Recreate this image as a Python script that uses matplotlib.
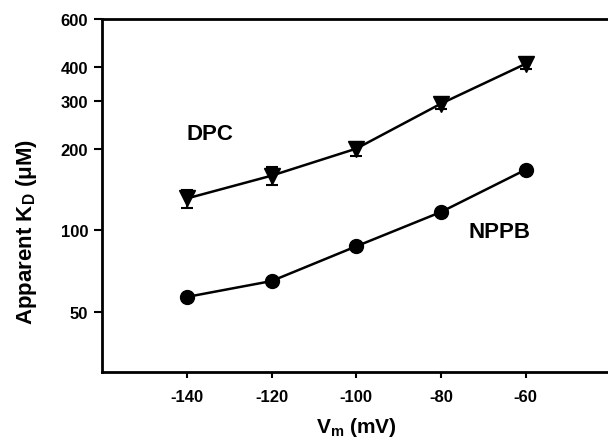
import matplotlib
matplotlib.use("Agg")
import matplotlib.pyplot as plt
from matplotlib.ticker import FixedLocator, NullLocator, FixedFormatter

plt.rcParams['font.family'] = ['Liberation Sans', 'DejaVu Sans']
plt.rcParams['font.weight'] = 'bold'
plt.rcParams['mathtext.fontset'] = 'custom'
plt.rcParams['mathtext.rm'] = 'Liberation Sans:bold'
plt.rcParams['mathtext.bf'] = 'Liberation Sans:bold'
plt.rcParams['mathtext.it'] = 'Liberation Sans:bold'
plt.rcParams['mathtext.default'] = 'bf'

vm = [-140, -120, -100, -80, -60]
dpc = [131, 159, 200, 293, 411]
dpc_err = [10, 12, 12, 12, 17]
nppb = [56.8, 65.0, 87.3, 116.8, 167.3]

yticks = [50, 100, 200, 300, 400, 600]
xticks = [-140, -120, -100, -80, -60]

fig = plt.figure(figsize=(6.08, 4.39), dpi=100)
ax = fig.add_axes([0.168, 0.150, 0.836, 0.804])

ax.plot(vm, nppb, color='black', lw=1.8, marker='o', ms=10, zorder=3)
ax.errorbar(vm, dpc, yerr=dpc_err, color='black', lw=1.8, marker='v', ms=11,
            capsize=4, elinewidth=1.5, capthick=1.5, zorder=3)

ax.set_yscale('log')
ax.set_ylim(30, 600)
ax.set_xlim(-160, -40)
ax.yaxis.set_major_locator(FixedLocator(yticks))
ax.yaxis.set_major_formatter(FixedFormatter([str(t) for t in yticks]))
ax.yaxis.set_minor_locator(NullLocator())
ax.set_xticks(xticks)
ax.set_xticklabels([str(t) for t in xticks])

ax.spines['right'].set_visible(False)
for s in ['left', 'bottom', 'top']:
    ax.spines[s].set_linewidth(2)
ax.tick_params(axis='y', direction='out', length=6, width=1.5, labelsize=12, pad=4)
ax.tick_params(axis='x', direction='out', length=4, width=1.5, labelsize=12, pad=8)

ax.text(-140, 227, 'DPC', fontsize=16, fontweight='bold', ha='left', va='center')
ax.text(-73.5, 99, 'NPPB', fontsize=16, fontweight='bold', ha='left', va='center')

ax.set_xlabel('V$_{m}$ (mV)', fontsize=15, fontweight='bold', labelpad=8)
ax.set_ylabel('Apparent K$_{D}$ (\u03bcM)', fontsize=16, fontweight='bold')
ax.yaxis.set_label_coords(-0.125, 0.40)

fig.savefig('out.png', dpi=100)
